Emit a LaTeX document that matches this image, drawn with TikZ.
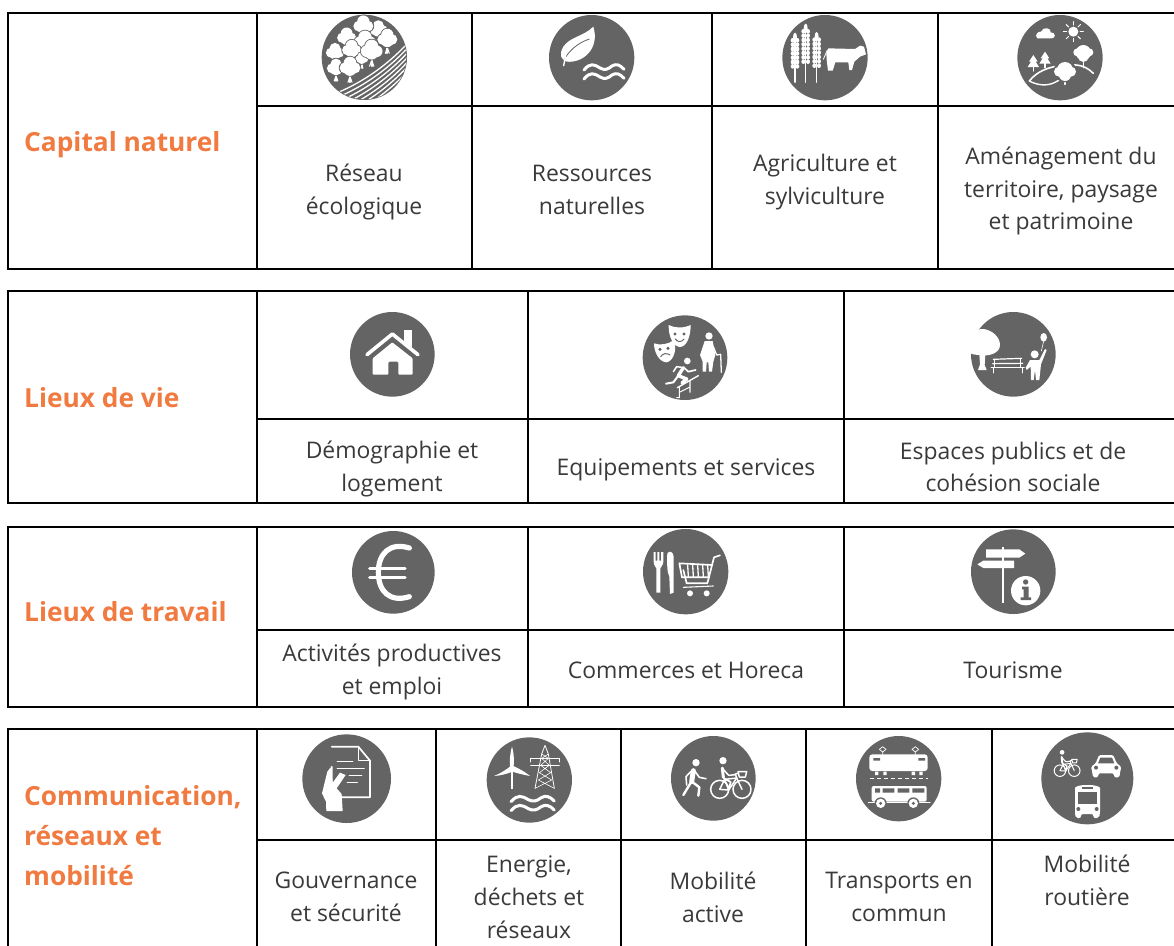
\documentclass[tikz,border=0pt]{standalone}
\usepackage{fontspec}
\setmainfont{Open Sans}
\definecolor{icongray}{HTML}{646464}
\definecolor{titleorange}{HTML}{F07A40}
\definecolor{bodyink}{HTML}{3A3A3A}
\tikzset{
  gridline/.style={draw=black,line width=2.1pt},
  celltext/.style={align=center,text=bodyink,inner sep=0pt,font=\fontsize{22.9}{32.7}\selectfont},
  titletext/.style={align=left,anchor=west,text=titleorange,inner sep=0pt,font=\fontsize{26.3}{40}\selectfont\bfseries},
  crop/.style 2 args={shift={(#1,#2)},x=0.33333pt,y=-0.33333pt},
  wl/.style={draw=white,line width=#1,line cap=round,line join=round},
  wl/.default=1.5pt,
  gl/.style={draw=icongray,line width=#1,line cap=round,line join=round},
  gl/.default=1pt,
  wf/.style={fill=white},
  gf/.style={fill=icongray},
}
\newcommand\icdisc[3]{\fill[icongray] (#1,#2) circle[radius=#3];}
\newcommand\ictree[3]{% x y r
  \draw[wl=1.7pt] (#1,#2) -- (#1,#2+#3*1.95);
  \draw[wl=1.1pt] (#1-#3*.25,#2+#3*1.95) -- (#1,#2+#3*1.2) -- (#1+#3*.25,#2+#3*1.95);
  \foreach \dx/\dy/\rr in {-.6/.15/.7,.6/.15/.7,0/-.45/.8,0/.35/.8}{
    \fill[icongray] (#1+#3*\dx,#2+#3*\dy) circle[radius=#3*\rr+2.5];}
  \foreach \dx/\dy/\rr in {-.6/.15/.7,.6/.15/.7,0/-.45/.8,0/.35/.8}{
    \fill[white] (#1+#3*\dx,#2+#3*\dy) circle[radius=#3*\rr];}
}
\newcommand\icwave[3]{% x y w: two humps
  \draw[wl=#3] (#1,#2+10) .. controls (#1+18,#2-12) and (#1+30,#2-8) .. (#1+48,#2+4)
     .. controls (#1+62,#2+12) and (#1+72,#2+8) .. (#1+84,#2-2)
     .. controls (#1+96,#2-10) and (#1+108,#2-6) .. (#1+120,#2+8);
}
\newcommand\icbike[4]{% x y scale linewidth: midpoint between wheels, zoom units
  \begin{scope}[shift={(#1,#2)},x=#3*0.33333pt,y=-#3*0.33333pt]
  \draw[wl=#4] (-33,0) circle[radius=27];
  \draw[wl=#4] (34,0) circle[radius=27];
  \draw[wl=#4] (-33,0) -- (-18,-30) -- (18,-34) -- (34,0);
  \draw[wl=#4] (-33,0) -- (-6,2) -- (18,-34) (-6,2) -- (-20,-34);
  \draw[wl=#4] (18,-34) -- (14,-46) -- (22,-48);
  \draw[wl=#4] (22,-53) -- (48,-53) -- (44,-37) -- (26,-37) -- cycle;
  \fill[white] (-23,-86) circle[radius=11];
  \draw[wl=2*#4] (-25,-64) -- (-22,-36);
  \draw[wl=#4] (-24,-62) -- (-6,-42) -- (14,-44);
  \draw[wl=1.2*#4] (-22,-34) -- (0,-22) -- (-6,2);
  \end{scope}
}
\begin{document}
\begin{tikzpicture}[x=1pt,y=-1pt]
\useasboundingbox (0,0) rectangle (1174,945);
\fill[white] (0,0) rectangle (1174,945);
\clip (0,0) rectangle (1174,945);
% ---------- tables
\draw[gridline] (1180,13) -- (8,13) -- (8,269) -- (1180,269);
\draw[gridline] (257,13) -- (257,269) (472,13) -- (472,269) (712,13) -- (712,269) (938,13) -- (938,269) (257,106) -- (1180,106);
\draw[gridline] (1180,291) -- (8,291) -- (8,503) -- (1180,503);
\draw[gridline] (257,291) -- (257,503) (528,291) -- (528,503) (844,291) -- (844,503) (257,419) -- (1180,419);
\draw[gridline] (1180,527) -- (8,527) -- (8,707) -- (1180,707);
\draw[gridline] (257,527) -- (257,707) (528,527) -- (528,707) (844,527) -- (844,707) (257,630) -- (1180,630);
\draw[gridline] (1180,729) -- (8,729) -- (8,950);
\draw[gridline] (257,729) -- (257,950) (436,729) -- (436,950) (621,729) -- (621,950) (806,729) -- (806,950) (992,729) -- (992,950) (257,840) -- (1180,840);
% ---------- titles
\node[titletext] (t1) at (24,145) {Capital naturel};
\node[titletext] (t2) at (24,398) {Lieux de vie};
\node[titletext] (t3) at (24,612) {Lieux de travail};
\node[titletext] (t4) at (24,836) {Communication,\\réseaux et\\mobilité};
% ---------- cell texts
\node[celltext] (c11) at (364,192) {Réseau\\écologique};
\node[celltext] (c12) at (592,190) {Ressources\\naturelles};
\node[celltext] (c13) at (825,182) {Agriculture et\\sylviculture};
\node[celltext] (c14) at (1061,191) {Aménagement du\\territoire, paysage\\et patrimoine};
\node[celltext] (c21) at (392,469) {Démographie et\\logement};
\node[celltext] (c22) at (686,470) {Equipements et services};
\node[celltext] (c23) at (1013,467) {Espaces publics et de\\cohésion sociale};
\node[celltext] (c31) at (392,672) {Activités productives\\et emploi};
\node[celltext] (c32) at (686,670) {Commerces et Horeca};
\node[celltext] (c33) at (1013,670) {Tourisme};
\node[celltext] (c41) at (346,897) {Gouvernance\\et sécurité};
\node[celltext] (c42) at (529,897) {Energie,\\déchets et\\réseaux};
\node[celltext] (c43) at (713,897) {Mobilité\\active};
\node[celltext] (c44) at (899,897) {Transports en\\commun};
\node[celltext] (c45) at (1087,880) {Mobilité\\routière};
% ---------- icon 1: forest
\begin{scope}[crop={300}{5}]
\icdisc{193}{157}{128}
\begin{scope}
\clip (193,157) circle[radius=126];
\foreach \o in {0,14,...,84}{
  \draw[white,line width=1.3pt] (110,278+\o-14) .. controls (190,245+\o-14) and (270,190+\o-14) .. (335,115+\o-14);
}
\end{scope}
\ictree{235}{72}{21}
\ictree{190}{60}{23}
\ictree{262}{100}{23}
\ictree{140}{95}{22}
\ictree{105}{140}{21}
\ictree{195}{108}{25}
\ictree{155}{132}{22}
\ictree{185}{160}{15}
\ictree{215}{135}{25}
\ictree{108}{187}{21}
\ictree{150}{185}{24}
\end{scope}
% ---------- icon 2: leaf and waves
\begin{scope}[crop={300}{5}]
\icdisc{875}{158}{128}
\fill[white] (880,65) .. controls (850,95) and (810,95) .. (790,125)
  .. controls (775,150) and (785,165) .. (800,170)
  .. controls (850,175) and (900,130) .. (880,65) -- cycle;
\draw[gl=.8pt] (868,102) .. controls (830,115) and (805,140) .. (792,165);
\draw[wl=1.4pt] (797,150) -- (791,182);
\icwave{852}{185}{3pt}
\icwave{852}{212}{3pt}
\end{scope}
% ---------- icon 3: wheat and cow
\begin{scope}[crop={760}{5}]
\icdisc{195}{158}{128}
\foreach \x/\t/\n in {105/97/7,137/70/8,170/95/7}{
  \draw[wl=1.1pt] (\x,\t) -- (\x,232);
  \foreach \i in {1,...,\n}{
    \fill[white] (\x-7,\t+\i*13-4) ellipse[x radius=6,y radius=7];
    \fill[white] (\x+7,\t+\i*13-4) ellipse[x radius=6,y radius=7];
  }
  \fill[white] (\x,\t) ellipse[x radius=6,y radius=14];
}
\fill[white] (205,130) -- (285,132) -- (300,122) -- (312,125) -- (318,148) -- (300,155) -- (283,170)
  -- (276,195) -- (268,195) -- (265,172) -- (226,172) -- (218,197) -- (204,197) -- (200,165) -- (199,145) -- cycle;
\draw[wl=.8pt] (202,135) -- (190,163);
\end{scope}
% ---------- icon 4: landscape
\begin{scope}[crop={760}{5}]
\icdisc{900}{158}{128}
\fill[white] (832,100) .. controls (822,90) and (835,78) .. (843,80) .. controls (850,62) and (875,70) .. (872,82) .. controls (888,82) and (888,100) .. (875,100) -- cycle;
\fill[white] (940,80) circle[radius=15];
\foreach \a in {0,45,...,315}{
  \draw[wl=1pt] (940,80) ++(\a:20) -- ++(\a:10);
}
\draw[wl=1.6pt] (808,228) .. controls (830,200) and (865,185) .. (905,182) .. controls (940,178) and (970,175) .. (1000,205);
\draw[wl=1.4pt] (808,228) .. controls (830,240) and (860,245) .. (885,232) .. controls (895,226) and (905,222) .. (915,222);
\foreach \x/\y in {820/150,855/140}{
  \fill[white] (\x,\y) -- (\x+13,\y+20) -- (\x+7,\y+20) -- (\x+17,\y+36) -- (\x-17,\y+36) -- (\x-7,\y+20) -- (\x-13,\y+20) -- cycle;
  \draw[wl=1.2pt] (\x,\y+30) -- (\x,\y+48);
}
\draw[wl=1.6pt] (970,150) -- (970,188);
\fill[white] (970,143) circle[radius=23] (952,142) circle[radius=12] (988,142) circle[radius=12] (970,155) circle[radius=16];
\draw[wl=1.6pt] (915,200) -- (915,238);
\fill[gf] (915,198) circle[radius=34];
\fill[white] (915,195) circle[radius=24] (897,200) circle[radius=15] (933,200) circle[radius=15] (915,210) circle[radius=18];
\end{scope}
% ---------- icon 5: house
\begin{scope}[crop={330}{305}]
\icdisc{187}{148}{127}
\fill[white] (222,76) rectangle (246,125);
\draw[gl=2.6pt] (205,112) -- (262,160);
\draw[white,line width=3.6pt,line cap=round,line join=round] (111,149) -- (187,87) -- (264,149);
\fill[white,rounded corners=1pt] (128,160) -- (187,112) -- (248,160) -- (248,209) -- (205,209) -- (205,170) -- (175,170) -- (175,209) -- (128,209) -- cycle;
\end{scope}
% ---------- icon 6: masks, elder, runner
\begin{scope}[crop={330}{305}]
\icdisc{1065}{158}{127}
\fill[white] (972,115) .. controls (990,122) and (1015,118) .. (1032,105) .. controls (1042,135) and (1030,168) .. (1010,172) .. controls (990,172) and (972,145) .. (972,115) -- cycle;
\fill[white] (1016,60) .. controls (1035,70) and (1060,70) .. (1082,60) .. controls (1082,95) and (1070,125) .. (1050,126) .. controls (1030,125) and (1015,95) .. (1016,60) -- cycle;
\fill[icongray] (990,133) circle[radius=5] (1014,130) circle[radius=5] (1035,87) circle[radius=5] (1062,87) circle[radius=5];
\draw[gl=1pt] (992,155) .. controls (998,145) and (1010,143) .. (1020,150);
\draw[gl=1pt] (1036,102) .. controls (1042,112) and (1056,112) .. (1062,102);
% elder
\fill[white] (1137,93) circle[radius=11];
\fill[white] (1124,108) -- (1148,108) -- (1156,150) -- (1150,170) -- (1146,200) -- (1137,200) -- (1135,172) -- (1130,172) -- (1128,200) -- (1118,200) -- (1118,170) -- (1110,150) -- cycle;
\draw[wl=1.3pt] (1150,125) -- (1160,150) -- (1172,148) -- (1174,202);
% runner
\fill[white] (1072,168) circle[radius=10];
\draw[white,line width=3.4pt,line cap=round,line join=round] (1060,188) -- (1045,212) -- (1070,222) -- (1056,234);
\draw[wl=2pt] (1008,236) -- (1030,232) -- (1045,212);
\draw[wl=1.7pt] (1062,188) -- (1075,200) -- (1097,195);
\draw[wl=1.5pt] (1062,188) -- (1040,185) -- (1030,200);
\draw[wl=1.4pt] (1042,248) -- (1105,212);
\draw[wl=1.1pt] (1040,278) -- (1048,278) -- (1048,245) (1080,262) -- (1080,228) (1048,262) -- (1080,246);
\end{scope}
% ---------- icon 7: park
\begin{scope}[crop={950}{305}]
\icdisc{190}{148}{127}
\fill[white] (62,120) .. controls (62,95) and (75,70) .. (100,72) .. controls (125,75) and (150,95) .. (150,120) .. controls (150,145) and (115,155) .. (90,150) .. controls (80,150) and (65,148) .. (62,145) -- cycle;
\fill[white] (88,148) -- (106,148) -- (104,180) -- (110,195) -- (84,195) -- (90,178) -- cycle;
\draw[wl=1.2pt] (130,163) -- (215,160) (128,176) -- (218,175);
\draw[wl=1.5pt] (124,188) -- (222,188);
\draw[wl=.8pt] (130,204) -- (130,188) (218,204) -- (218,188) (134,163) -- (134,188) (210,160) -- (210,188);
\fill[white] (254,148) circle[radius=12];
\fill[white] (240,165) -- (268,165) -- (285,132) -- (290,135) -- (273,178) -- (268,225) -- (258,225) -- (255,195) -- (251,225) -- (243,225) -- (242,185) -- (230,195) -- (227,188) -- cycle;
\fill[white] (281,97) ellipse[x radius=10,y radius=13];
\draw[wl=.6pt] (281,108) -- (274,138);
\end{scope}
% ---------- icon 8: euro
\begin{scope}[crop={340}{520}]
\icdisc{160}{157}{124}
\draw[white,line width=5.2pt,line cap=round] (208,84) .. controls (150,66) and (115,100) .. (115,157) .. controls (115,215) and (150,248) .. (208,230);
\draw[white,line width=3.4pt,line cap=round] (89,145) -- (195,145) (89,172) -- (195,172);
\end{scope}
% ---------- icon 9: fork, knife, cart
\begin{scope}[crop={340}{520}]
\icdisc{1037}{155}{128}
\fill[white] (941,96) -- (947,96) -- (947,122) -- (952,122) -- (952,96) -- (958,96) -- (958,122) -- (963,122) -- (963,96) -- (970,96) -- (970,125) .. controls (970,136) and (962,140) .. (961,145) -- (961,218) -- (949,218) -- (949,145) .. controls (947,140) and (941,136) .. (941,125) -- cycle;
\fill[white] (982,100) .. controls (988,90) and (1000,95) .. (1001,110) -- (1001,218) -- (990,222) -- (988,170) .. controls (982,160) and (980,130) .. (982,100) -- cycle;
\draw[wl=1.7pt] (1140,106) -- (1122,112) -- (1102,190) -- (1040,190) -- (1030,150);
\draw[wl=1.7pt] (1117,135) -- (1018,130) -- (1026,172) -- (1108,172);
\foreach \x in {1043,1058,1073,1088,1103}{\draw[wl=1.3pt] (\x,135) -- (\x+2,170);}
\draw[wl=1.1pt] (1030,202) -- (1120,198);
\fill[white] (1050,220) circle[radius=9] (1100,220) circle[radius=9];
\end{scope}
% ---------- icon 10: signpost and info
\begin{scope}[crop={950}{520}]
\icdisc{190}{155}{127}
\draw[white,line width=1.8pt] (158,80) -- (158,248);
\fill[white] (108,88) -- (208,88) -- (226,101) -- (208,113) -- (108,113) -- cycle;
\fill[white] (100,122) -- (192,122) -- (192,144) -- (100,144) -- (82,133) -- cycle;
\fill[white] (227,212) circle[radius=44];
\fill[icongray] (227,186) circle[radius=8];
\fill[icongray] (216,200) -- (236,200) -- (236,232) -- (243,232) -- (243,240) -- (212,240) -- (212,232) -- (221,232) -- (221,208) -- (216,208) -- cycle;
\end{scope}
% ---------- icon 11: document in hand
\begin{scope}[crop={290}{730}]
\icdisc{170}{146}{133}
\draw[wl=1.7pt] (125,50) -- (205,50) -- (240,92) -- (240,202) -- (125,202) -- (125,110);
\draw[wl=1.4pt] (205,50) -- (205,92) -- (240,92);
\draw[wl=1.6pt] (142,95) -- (188,95);
\draw[wl=1.6pt] (142,116) -- (222,116);
\draw[wl=1.6pt] (178,137) -- (215,137);
\draw[wl=1.6pt] (172,157) -- (202,157);
\fill[white] (109,243) -- (158,243) -- (155,192) -- (140,175) -- (167,135) -- (150,128) -- (128,158) -- (122,112) -- (112,125) -- (96,190) -- (108,215) -- cycle;
\end{scope}
% ---------- icon 12: wind turbine, pylon, waves
\begin{scope}[crop={290}{730}]
\icdisc{718}{150}{128}
\draw[white,line width=1.8pt] (666,110) -- (666,178);
\fill[white] (666,50) .. controls (673,75) and (673,100) .. (669,120) -- (661,120) .. controls (658,100) and (659,75) .. (666,50) -- cycle;
\fill[white] (660,110) .. controls (640,125) and (625,133) .. (612,138) .. controls (630,137) and (650,132) .. (670,124) -- cycle;
\fill[white] (670,108) .. controls (685,115) and (705,125) .. (720,138) .. controls (700,134) and (680,130) .. (660,122) -- cycle;
\draw[wl=.8pt] (765,46) -- (755,72) -- (735,175) (765,46) -- (775,72) -- (793,175);
\draw[wl=.8pt] (722,85) -- (808,85) (722,106) -- (808,106) (722,85) -- (722,96) (808,85) -- (808,96);
\draw[wl=.6pt] (755,72) -- (775,85) -- (752,106) -- (782,128) -- (745,150) -- (793,175) (775,72) -- (755,85) -- (778,106) -- (748,128) -- (785,150) -- (735,175);
\begin{scope}[shift={(663,200)},x=1.08*0.33333pt,y=-0.33333pt]
\icwave{0}{5}{3pt}
\icwave{0}{32}{3pt}
\end{scope}
\end{scope}
% ---------- icon 13: walker and cyclist
\begin{scope}[crop={660}{730}]
\icdisc{160}{145}{127}
\fill[white] (108,98) circle[radius=11];
\draw[white,line width=5pt,line cap=round,line join=round] (100,122) -- (95,155);
\draw[wl=2.4pt] (94,155) -- (70,195);
\draw[wl=2.4pt] (96,155) -- (118,172) -- (115,197);
\draw[wl=1.6pt] (102,120) -- (118,142) -- (138,146);
\draw[wl=1.6pt] (92,125) -- (78,140) -- (80,165);
\icbike{212}{178}{1}{1.5pt}
\end{scope}
% ---------- icon 14: train and bus
\begin{scope}[crop={660}{730}]
\icdisc{716}{146}{128}
\fill[white,rounded corners=3pt] (628,73) -- (803,73) -- (803,123) -- (628,123) -- cycle;
\fill[icongray] (640,84) rectangle (660,92) (775,84) rectangle (795,92);
\foreach \x in {668,766}{\draw[wl=.7pt] (\x-10,58) -- (\x,50) -- (\x+10,58) -- (\x,66) -- cycle (\x,66) -- (\x,73);}
\fill[white] (645,125) rectangle (655,135) (670,125) rectangle (680,135) (755,125) rectangle (765,135) (778,125) rectangle (788,135);
\draw[white,line width=1.4pt,dash pattern=on 4pt off 3pt] (630,145) -- (805,145);
\fill[white,rounded corners=2pt] (635,168) -- (800,168) -- (800,215) -- (635,215) -- cycle;
\draw[wl=1pt] (625,218) -- (810,218);
\fill[icongray] (645,175) rectangle (660,188) (668,175) rectangle (703,188) (713,175) rectangle (748,188) (757,175) rectangle (793,188);
\fill[icongray] (662,220) circle[radius=18] (760,220) circle[radius=18];
\fill[white] (662,220) circle[radius=14] (760,220) circle[radius=14];
\fill[icongray] (662,220) circle[radius=5] (760,220) circle[radius=5];
\end{scope}
% ---------- icon 15: bike, car, bus
\begin{scope}[crop={1030}{730}]
\icdisc{172}{145}{138}
\icbike{111}{122}{.64}{1pt}
\fill[white,rounded corners=1.5pt] (183,110) -- (197,100) -- (207,75) -- (250,75) -- (260,100) -- (274,110) -- (270,128) -- (268,142) -- (252,142) -- (252,130) -- (205,130) -- (205,142) -- (189,142) -- (187,128) -- cycle;
\fill[icongray] (211,83) -- (246,83) -- (253,100) -- (204,100) -- cycle;
\fill[icongray] (198,113) circle[radius=6] (259,113) circle[radius=6];
\fill[white,rounded corners=2pt] (135,180) .. controls (135,170) and (150,165) .. (172,165) .. controls (195,165) and (210,170) .. (210,180) -- (210,250) -- (207,264) -- (190,264) -- (190,252) -- (153,252) -- (153,264) -- (137,264) -- (135,250) -- cycle;
\fill[icongray] (145,187) rectangle (200,222);
\fill[icongray] (155,170) rectangle (190,176);
\fill[icongray] (145,237) circle[radius=6] (200,237) circle[radius=6];
\end{scope}
\end{tikzpicture}
\end{document}
